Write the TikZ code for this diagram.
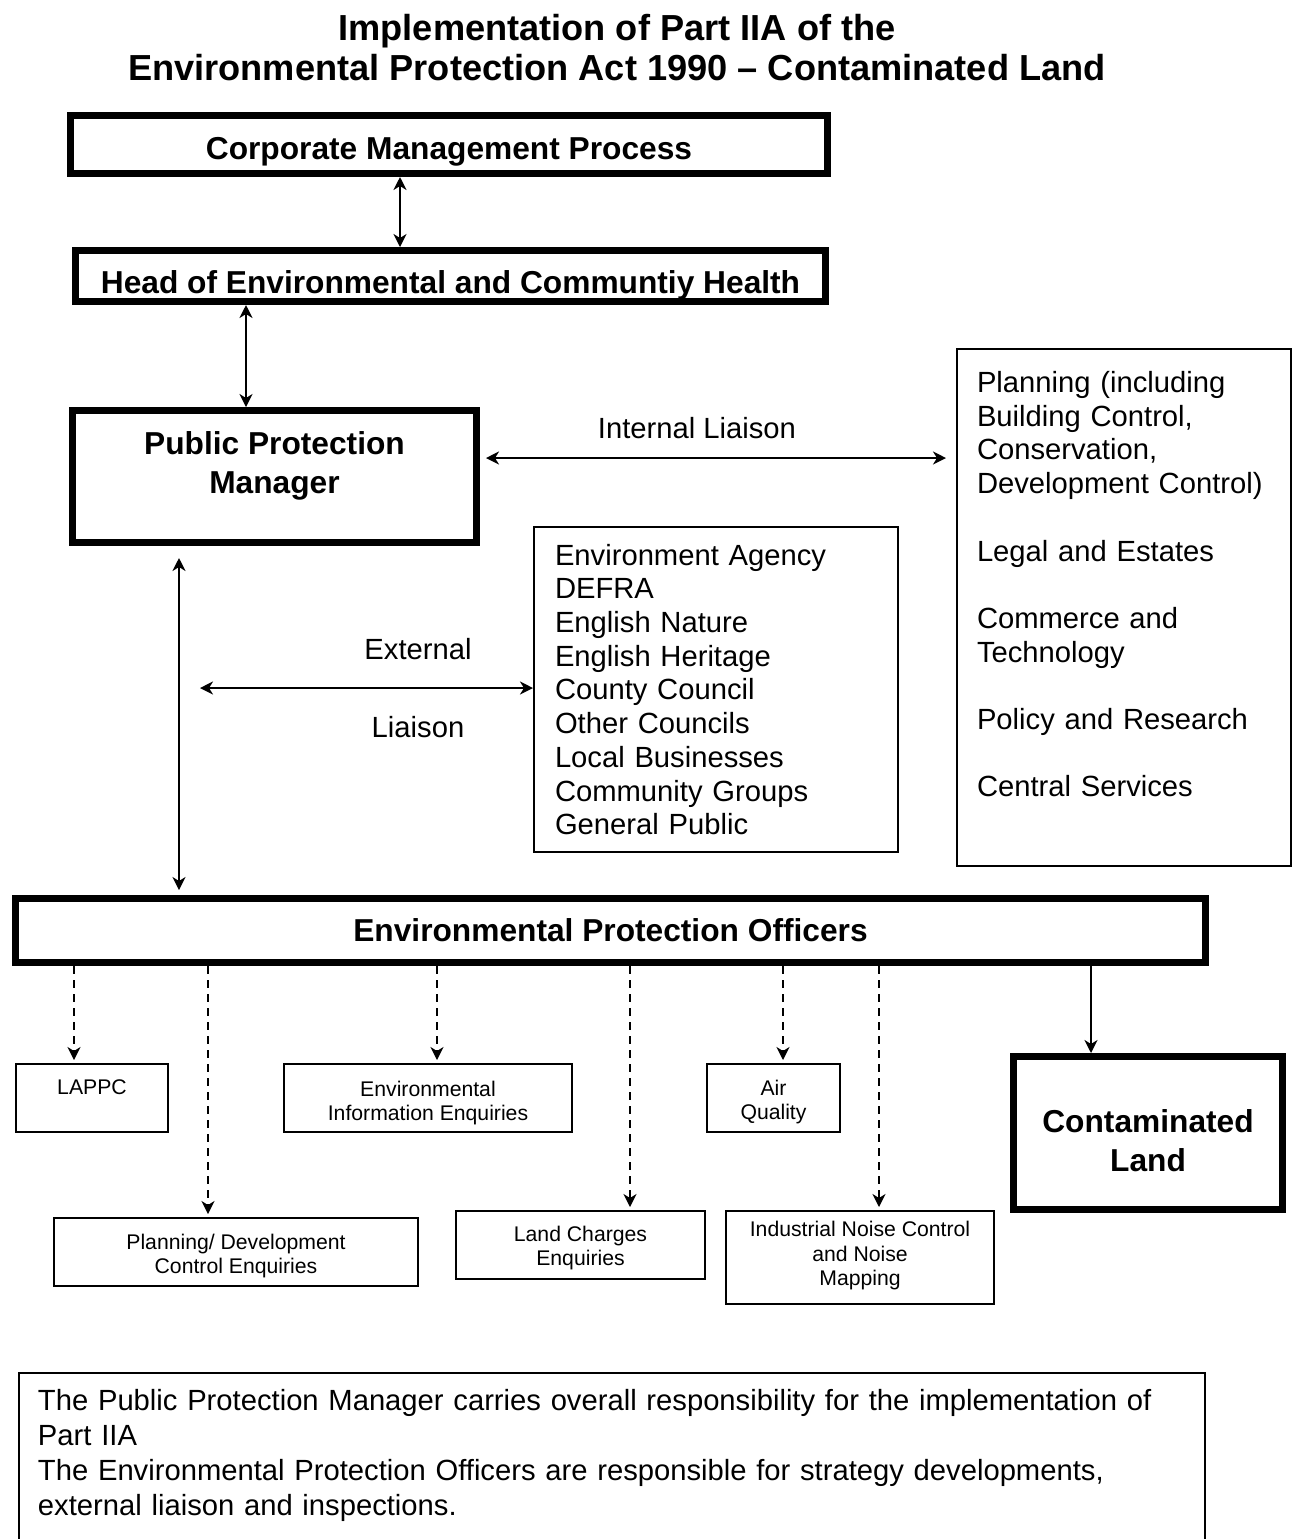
\documentclass[tikz,border=0pt]{standalone}
\usepackage{fontspec}
\setmainfont{Liberation Sans}
\usetikzlibrary{arrows.meta, positioning, calc}

\begin{document}
\begin{tikzpicture}[
    x=0.5pt, y=-0.5pt,
    heavybox/.style={
        rectangle, draw=black, line width=3.5pt,
        font=\fontsize{15.85pt}{19.5pt}\selectfont\bfseries, align=center
    },
    listbox/.style={
        rectangle, draw=black, line width=1pt,
        font=\fontsize{14.6pt}{16.85pt}\selectfont, align=left
    },
    smallbox/.style={
        rectangle, draw=black, line width=1pt,
        font=\fontsize{10.6pt}{12.25pt}\selectfont, align=center,
        minimum height=34pt, text height=21.5pt, text depth=0pt
    },
    liaison/.style={font=\fontsize{14.6pt}{16.85pt}\selectfont},
    dbl/.style={{Stealth[length=6.5pt, width=6.5pt, inset=2pt]}-{Stealth[length=6.5pt, width=6.5pt, inset=2pt]},
        line width=1pt},
    arr/.style={-{Stealth[length=6.5pt, width=6.5pt, inset=2pt]}, line width=1pt},
    dasharr/.style={arr, dash pattern=on 4pt off 3pt}
]
\useasboundingbox (0,0) rectangle (1294,1539);

% ===================================================================
% TITLE
% ===================================================================
\node[font=\fontsize{18.1pt}{20pt}\selectfont\bfseries, align=center] (title)
    at (617,48)
    {Implementation of Part IIA of the\\
     Environmental Protection Act 1990 – Contaminated Land};

% ===================================================================
% MANAGEMENT CHAIN
% ===================================================================
\node[heavybox, minimum width=378.5pt, minimum height=29pt, inner ysep=0pt,
      text height=15pt, text depth=0pt] (corp) at (449,144.5)
    {Corporate Management Process};

\node[heavybox, minimum width=375pt, minimum height=25.5pt, inner ysep=0pt,
      text height=17pt, text depth=0pt] (head) at (450.5,276)
    {Head of Environmental and Communtiy Health};

\node[heavybox, minimum width=202pt, minimum height=66pt,
      text height=16.85pt, text depth=0pt] (ppm) at (274.5,476.5)
    {Public Protection\\Manager};

\draw[dbl] ([xshift=-24.5pt]corp.south) -- ([xshift=-24.5pt]corp.south |- head.north);
\draw[dbl] ([xshift=-14.25pt]ppm.north |- head.south) -- ([xshift=-14.25pt]ppm.north);

% ===================================================================
% INTERNAL LIAISON
% ===================================================================
\node[listbox, minimum width=167pt, minimum height=258.5pt, text width=147pt,
      text height=10.5pt, text depth=225.5pt] (plan) at (1124,607.5)
    {Planning (including\\
     Building Control,\\
     Conservation,\\
     Development Control)\\[16.85pt]
     Legal and Estates\\[16.85pt]
     Commerce and\\
     Technology\\[16.85pt]
     Policy and Research\\[16.85pt]
     Central Services};

\node[liaison] (intlbl) at (697,428) {Internal Liaison};

\draw[dbl] ([xshift=3pt,yshift=9.25pt]ppm.east)
    -- ([xshift=-5pt,yshift=9.25pt]ppm.east -| plan.west);

% ===================================================================
% EXTERNAL LIAISON
% ===================================================================
\node[listbox, minimum width=182pt, minimum height=162.5pt, text width=161pt]
    (agencies) at (716,689.5)
    {Environment Agency\\
     DEFRA\\
     English Nature\\
     English Heritage\\
     County Council\\
     Other Councils\\
     Local Businesses\\
     Community Groups\\
     General Public};

\node[liaison] (extlbl) at (418,649) {External};
\node[liaison] (liailbl) at (418,727) {Liaison};

\coordinate (extend) at (200,688);
\draw[dbl] (extend) -- (extend -| agencies.west);

% ===================================================================
% OFFICERS AND THEIR DUTIES
% ===================================================================
\node[heavybox, minimum width=595pt, minimum height=32pt] (epo) at (610.5,930.5)
    {Environmental Protection Officers};

\draw[dbl] ([xshift=-47.75pt,yshift=-6pt]ppm.south)
    -- ([xshift=-47.75pt,yshift=2.5pt]ppm.south |- epo.north);

\node[smallbox, minimum width=76pt, text height=7.6pt, text depth=11pt]
    (lappc) at (92,1098) {LAPPC};
\node[smallbox, minimum width=144pt, text height=22.6pt] (envinfo) at (428,1098)
    {Environmental\\Information Enquiries};
\node[smallbox, minimum width=66.5pt] (air) at (773.5,1098) {Air\\Quality};
\node[smallbox, minimum width=182pt] (plandev) at (236,1252)
    {Planning/ Development\\Control Enquiries};
\node[smallbox, minimum width=124.5pt, text height=20.6pt] (landch) at (580.5,1245)
    {Land Charges\\Enquiries};
\node[smallbox, minimum width=134pt, minimum height=46.5pt, text height=28.1pt]
    (noise) at (860,1257.5)
    {Industrial Noise Control\\and Noise\\Mapping};

\node[heavybox, minimum width=134.5pt, minimum height=76.5pt,
      text height=38.35pt, text depth=0pt] (contam) at (1148,1133)
    {Contaminated\\Land};

\draw[dasharr] ([xshift=-9pt]lappc.north |- epo.south) -- ([xshift=-9pt,yshift=1.5pt]lappc.north);
\draw[dasharr] ([xshift=-14pt]plandev.north |- epo.south) -- ([xshift=-14pt,yshift=1.5pt]plandev.north);
\draw[dasharr] ([xshift=4.5pt]envinfo.north |- epo.south) -- ([xshift=4.5pt,yshift=1.5pt]envinfo.north);
\draw[dasharr] ([xshift=24.75pt]landch.north |- epo.south) -- ([xshift=24.75pt,yshift=1.5pt]landch.north);
\draw[dasharr] ([xshift=4.75pt]air.north |- epo.south) -- ([xshift=4.75pt,yshift=1.5pt]air.north);
\draw[dasharr] ([xshift=9.5pt]noise.north |- epo.south) -- ([xshift=9.5pt,yshift=1.5pt]noise.north);
\draw[arr] ([xshift=-28.5pt]contam.north |- epo.south) -- ([xshift=-28.5pt]contam.north);

% ===================================================================
% NOTE
% ===================================================================
\node[listbox, font=\fontsize{14.6pt}{17.5pt}\selectfont, minimum width=593pt,
      minimum height=93.5pt, text width=574pt,
      text height=10.5pt, text depth=66.5pt] (note) at (612,1466.5)
    {The Public Protection Manager carries overall responsibility for the implementation of\\
     Part IIA\\
     The Environmental Protection Officers are responsible for strategy developments,\\
     external liaison and inspections.};

\end{tikzpicture}
\end{document}
